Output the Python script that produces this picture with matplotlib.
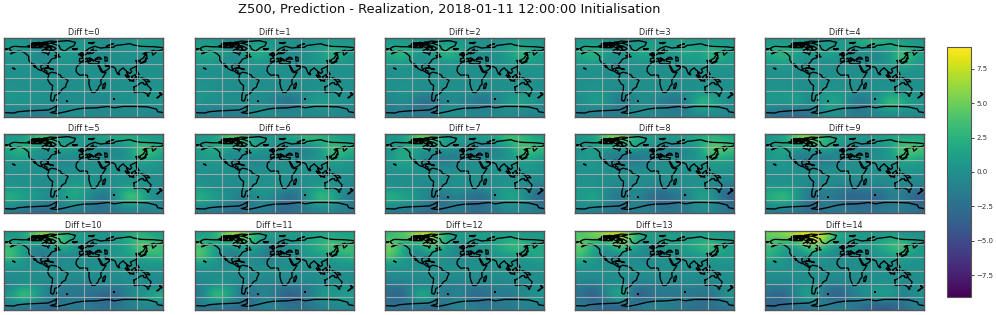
# Z500 difference maps, prediction minus realization
import matplotlib
matplotlib.use('Agg')
import numpy as np
import matplotlib.pyplot as plt

W, H = 996, 315

lons = [-165, -135, -105, -75, -45, -15, 15, 45, 75, 105, 135, 165]
lats = [78.75, 56.25, 33.75, 11.25, -11.25, -33.75, -56.25, -78.75]

# one field per lead time, rows north to south
diff_0 = [[0.5, 0.5, -0.5, -1.0, 0.0, 0.5, 0.5, 0.0, 0.0, 0.5, 1.0, 0.5],
          [0.5, 1.0, -0.5, -0.5, 2.0, 0.5, 0.0, -0.5, 0.0, 0.0, 0.0, 0.5],
          [0.0, 0.5, -0.5, -0.5, 0.0, 0.0, 0.0, 0.0, 0.0, 0.0, 0.0, 0.0],
          [0.0, 0.0, 0.0, 0.0, 0.0, 0.0, 0.0, 0.0, 0.0, 0.0, 0.0, 0.0],
          [0.0, 0.0, 0.0, 0.0, 0.0, 0.0, 0.0, 0.0, 0.0, 0.0, 0.0, 0.0],
          [0.5, 0.0, 0.0, 0.0, -0.5, 0.0, 0.0, 0.0, 0.0, 0.0, 0.5, 0.5],
          [0.5, 0.5, 0.5, 0.0, -0.5, 0.0, -1.0, -1.0, 0.0, 0.0, 0.5, 0.5],
          [-1.0, -1.0, -2.0, -1.0, -0.5, 0.0, -0.5, -0.5, -0.5, -0.5, -0.5, -1.0]]
diff_1 = [[0.5, 0.5, -0.5, -1.0, 0.5, 0.5, 0.5, 0.0, 0.0, 0.5, 0.5, 0.5],
          [2.0, 2.5, 0.0, 0.0, 4.0, 1.5, 0.0, -0.5, 0.0, 1.0, 4.0, 1.0],
          [0.5, 0.5, -0.5, -0.5, 0.0, 0.0, 0.0, -0.5, 0.0, 0.5, 0.5, 0.0],
          [0.0, 0.0, 0.0, 0.0, 0.0, 0.0, 0.0, 0.0, 0.0, 0.0, 0.0, 0.0],
          [0.0, 0.0, 0.0, 0.0, 0.0, 0.0, 0.0, 0.0, 0.0, 0.0, 0.0, 0.0],
          [0.5, 0.0, -0.5, -0.5, 0.0, -0.5, 0.0, -0.5, 0.0, 0.0, 0.5, 0.0],
          [0.5, 0.0, 0.5, 0.0, 0.0, -0.5, -3.0, -3.0, 0.5, 1.5, 0.5, 0.0],
          [-1.5, -1.5, -1.5, -1.5, -0.5, 0.0, -0.5, -0.5, -0.5, -0.5, -0.5, -1.0]]
diff_2 = [[0.5, 0.5, 0.5, -0.5, 0.5, 0.5, 0.5, 0.0, 0.0, 0.5, 0.5, 0.5],
          [2.5, 4.0, 0.5, 0.5, 4.5, 2.5, 0.0, 0.0, 0.0, 1.5, 4.5, 1.0],
          [0.5, 1.0, -0.5, -0.5, 0.0, 0.0, 0.0, -0.5, 0.0, 0.5, 1.0, 0.5],
          [0.0, 0.0, 0.0, 0.0, 0.0, 0.0, 0.0, 0.0, 0.0, 0.0, 0.0, 0.0],
          [0.0, 0.0, 0.0, 0.0, 0.0, 0.0, 0.0, 0.0, 0.0, 0.0, 0.0, 0.0],
          [0.0, 0.5, 0.0, -0.5, 0.0, 0.0, 0.0, -0.5, 0.0, 0.0, 0.5, 0.0],
          [-1.5, 0.5, -3.0, -3.0, -0.5, -1.0, -2.0, -3.0, -1.0, 1.5, 1.5, 0.0],
          [-1.5, -1.5, -2.0, -1.5, 0.0, 0.0, -0.5, -0.5, -0.5, -0.5, -1.0, -1.0]]
diff_3 = [[0.5, 0.5, 0.5, -0.5, 0.0, 0.5, 1.0, 1.0, 1.0, 0.5, 0.5, 0.5],
          [2.0, 4.0, 0.5, 0.0, 2.0, 2.5, 0.5, 0.5, 3.0, 1.0, 4.5, 1.5],
          [0.5, 1.0, -0.5, -0.5, 0.0, 0.0, 0.0, 0.0, 0.0, 0.5, 1.0, 0.5],
          [0.0, 0.0, 0.0, 0.0, 0.0, 0.0, 0.0, 0.0, 0.0, 0.0, 0.0, 0.0],
          [0.0, 0.0, 0.0, 0.0, 0.0, 0.0, 0.0, 0.0, 0.0, 0.0, 0.0, 0.0],
          [0.0, 0.5, 0.0, -1.0, 0.0, 0.0, 0.0, -0.5, 0.0, 0.0, 0.0, 0.0],
          [0.0, 1.5, 0.5, -3.0, -0.5, 0.0, -1.5, -3.0, -1.5, 5.0, 1.5, 0.0],
          [-1.5, -1.5, -1.5, -1.5, -0.5, -0.5, -1.0, -1.5, -1.0, -0.5, -0.5, -1.0]]
diff_4 = [[0.5, 0.5, 1.0, 0.0, 0.0, 0.5, 1.0, 2.5, 3.0, 2.0, 0.5, 0.5],
          [2.5, 4.0, 1.0, 0.5, 2.5, 1.0, 0.0, -1.0, -1.5, 0.5, 5.5, 1.5],
          [0.5, 1.5, 0.0, -0.5, -0.5, -0.5, 0.0, 0.0, 0.0, 0.5, 3.0, 0.5],
          [0.0, 0.0, 0.0, 0.0, 0.0, 0.0, 0.0, 0.0, 0.0, 0.0, 0.0, 0.0],
          [0.0, 0.0, 0.0, 0.0, 0.0, 0.0, 0.0, 0.0, 0.0, 0.0, 0.0, 0.0],
          [0.5, 0.5, 0.0, -0.5, 0.0, 0.5, 0.0, -0.5, 0.0, 0.5, 0.0, 0.0],
          [1.0, 1.0, 2.0, -1.0, 2.0, 2.5, -1.5, -3.0, 0.5, 5.5, 2.5, 0.5],
          [-2.0, -3.0, -3.0, -2.0, -0.5, 0.0, -1.5, -1.5, -0.5, -0.5, -0.5, -0.5]]
diff_5 = [[0.5, 0.5, 4.0, 4.0, 0.0, 0.5, 1.0, 1.5, 2.0, 2.5, 0.5, 0.5],
          [2.0, 4.0, 0.0, 0.0, 2.5, 0.5, -0.5, -1.0, -1.5, 0.5, 5.5, 3.0],
          [0.5, 1.0, -0.5, -0.5, -1.5, -0.5, 0.0, 0.0, 0.0, 0.5, 3.0, 0.5],
          [0.0, 0.0, 0.0, 0.0, 0.0, 0.0, 0.0, 0.0, 0.0, 0.0, 0.0, 0.0],
          [0.0, 0.0, 0.0, 0.0, 0.0, 0.0, 0.0, 0.0, 0.0, 0.0, 0.0, 0.0],
          [0.5, 0.0, 0.0, -0.5, 0.5, 2.0, 0.5, -0.5, 0.0, 1.5, 0.5, -0.5],
          [3.5, 2.0, 1.5, -1.0, 1.0, 3.0, -1.0, -3.0, 0.5, 6.0, 3.0, -1.0],
          [-1.5, -2.5, -3.0, -3.0, -1.5, -1.5, -2.0, -2.5, -1.5, -1.0, -1.5, -1.0]]
diff_6 = [[0.5, 0.5, 5.0, 4.5, 0.5, 0.5, 1.0, 1.5, 3.5, 3.0, 1.0, 0.5],
          [1.0, 3.0, 0.0, 0.0, 2.5, 0.0, -0.5, -1.5, -2.0, 0.5, 5.5, 3.0],
          [0.5, 1.0, -0.5, -1.0, -1.5, -1.0, 0.0, 0.0, 0.0, 0.5, 2.0, 0.5],
          [0.0, 0.0, 0.0, 0.0, 0.0, 0.0, 0.0, 0.0, 0.0, 0.0, 0.0, 0.0],
          [0.0, 0.0, 0.0, 0.0, 0.0, 0.0, 0.0, 0.0, 0.0, 0.0, 0.0, 0.0],
          [0.5, -0.5, -0.5, -0.5, 0.5, 0.5, 0.0, -1.0, 0.0, 1.5, 0.0, -1.0],
          [3.5, 1.5, 0.5, -2.0, -0.5, 0.5, -2.5, -3.5, 0.5, 5.0, 2.5, -2.0],
          [-1.5, -2.0, -2.5, -2.5, -1.5, -1.5, -3.0, -2.5, -1.5, -1.0, -1.0, -1.5]]
diff_7 = [[0.5, 0.5, 5.5, 5.0, 0.5, 1.0, 1.0, 1.0, 2.0, 4.0, 2.5, 1.0],
          [0.0, 2.5, 0.0, 0.0, 1.5, -0.5, -1.5, -2.0, -1.5, 0.5, 5.5, 3.5],
          [0.5, 3.0, 0.0, -1.5, -3.0, -1.5, 0.0, 0.0, 0.0, 0.5, 2.0, 0.5],
          [0.0, 0.5, 0.0, 0.0, 0.0, 0.0, 0.0, 0.0, 0.0, 0.0, 0.5, 0.0],
          [0.0, 0.0, 0.0, 0.0, 0.0, 0.0, 0.0, 0.0, 0.0, 0.0, 0.0, 0.0],
          [0.0, -0.5, -0.5, -1.0, -0.5, 0.5, -0.5, -0.5, 0.0, 1.0, -0.5, -2.0],
          [3.5, 2.5, 1.0, -1.5, -2.5, -1.0, -3.0, -3.5, 0.5, 2.5, 0.5, -3.5],
          [-1.5, -2.0, -2.0, -3.0, -2.0, -1.5, -2.5, -2.5, -1.5, -0.5, -1.0, -1.5]]
diff_8 = [[0.5, 1.0, 6.0, 6.0, 2.0, 1.5, 1.0, 0.5, 1.5, 2.0, 2.5, 1.5],
          [0.0, 1.5, -0.5, 0.0, 1.5, -0.5, -1.5, -1.5, -1.0, 1.0, 7.0, 4.0],
          [0.5, 1.0, -1.5, -2.5, -3.0, -2.0, 0.0, 0.0, 0.0, 0.5, 2.0, 1.0],
          [0.0, 0.5, 0.0, 0.0, 0.0, 0.0, 0.0, 0.0, 0.0, 0.0, 0.5, 0.0],
          [0.0, 0.0, 0.0, 0.0, 0.0, 0.0, 0.0, 0.0, 0.0, 0.0, 0.0, 0.0],
          [0.5, 0.0, -0.5, -1.5, -0.5, -0.5, -1.5, -1.0, 0.0, 0.5, -1.0, -2.5],
          [1.0, 3.0, -1.0, -2.5, 0.5, -3.0, -4.0, -2.5, -1.5, 2.5, 0.5, -4.0],
          [-1.0, -1.5, -1.5, -2.5, -1.5, -1.0, -2.0, -2.0, -1.5, -0.5, -1.0, -2.0]]
diff_9 = [[0.5, 1.0, 6.0, 6.5, 2.5, 1.5, 1.0, 0.5, 1.0, 1.5, 1.5, 1.5],
          [0.5, 2.5, -0.5, 0.0, 2.5, -0.5, -1.5, -1.5, -0.5, 1.0, 6.0, 4.5],
          [0.5, 1.0, -2.0, -2.5, -2.5, -1.5, 0.0, 0.0, 0.0, 0.5, 2.5, 1.5],
          [0.0, 0.5, 0.0, 0.0, 0.0, 0.0, 0.0, 0.0, 0.0, 0.0, 0.5, 0.0],
          [0.0, 0.0, 0.0, 0.0, 0.0, 0.0, 0.0, 0.0, 0.0, 0.0, 0.0, 0.0],
          [0.5, 0.5, 0.0, -1.5, -1.0, -1.0, -2.0, -1.5, -1.5, -0.5, -1.0, -2.0],
          [3.0, 5.5, 1.0, -3.0, -1.0, -2.5, -4.0, -3.0, -4.0, -1.0, -2.0, -4.0],
          [-1.5, -2.0, -2.0, -3.0, -2.0, -1.5, -2.0, -2.5, -2.0, -1.5, -1.5, -2.5]]
diff_10 = [[0.5, 1.0, 6.0, 6.5, 2.5, 1.0, 1.0, 0.5, 0.5, 2.0, 2.5, 1.0],
           [3.0, 1.0, -1.5, 0.5, 4.0, 0.0, -0.5, 0.0, 0.5, 2.0, 6.0, 3.5],
           [4.5, 1.0, -2.0, -2.0, -1.0, -0.5, 0.0, 0.0, 0.5, 1.0, 2.0, 3.0],
           [0.0, 0.0, 0.0, 0.0, 0.0, 0.0, 0.0, 0.0, 0.0, 0.0, 0.0, 0.0],
           [0.0, 0.0, 0.0, 0.0, 0.0, 0.0, 0.0, 0.0, 0.0, 0.0, 0.0, 0.0],
           [-1.5, 0.0, -0.5, -1.5, -1.0, -1.5, -1.5, -1.0, -1.0, -0.5, -0.5, -1.5],
           [1.0, 6.5, 2.0, -1.5, -2.0, -2.0, -2.5, -3.5, -4.0, 0.0, 0.5, 3.5],
           [-1.5, -2.5, -2.5, -3.0, -2.0, -1.5, -1.5, -2.5, -2.0, -1.5, -0.5, -1.5]]
diff_11 = [[1.0, 2.0, 6.5, 7.0, 2.5, 1.0, 1.0, 1.0, 1.0, 1.5, 1.5, 1.0],
           [4.0, 1.0, -0.5, 1.0, 2.5, -1.5, -0.5, 0.0, 1.5, 3.5, 5.0, 3.5],
           [5.0, 1.0, -2.0, -1.0, -0.5, -2.5, -0.5, 0.0, 0.5, 0.5, 1.0, 3.0],
           [0.0, 0.0, 0.0, 0.0, 0.0, 0.0, 0.0, 0.0, 0.0, 0.0, 0.0, 0.0],
           [0.0, 0.0, 0.0, 0.0, 0.0, 0.0, 0.0, 0.0, 0.0, 0.0, 0.0, 0.0],
           [-1.5, 0.0, 0.0, -1.5, -1.0, -1.5, -1.5, -1.5, -1.5, -0.5, 0.0, -0.5],
           [-2.0, 6.0, 3.0, -2.0, -2.5, 0.5, -4.0, -4.0, -2.0, 1.5, 1.0, 1.5],
           [-1.5, -2.5, -2.5, -3.0, -2.0, -1.0, -1.5, -2.5, -2.0, -1.5, -0.5, -1.0]]
diff_12 = [[3.0, 4.5, 7.0, 7.5, 2.0, 1.0, 1.0, 1.0, 1.0, 1.0, 0.5, 0.5],
           [5.5, 1.0, 0.0, 5.5, 2.0, -1.0, 0.5, 0.5, 1.5, 4.5, 3.5, 1.5],
           [5.0, 1.0, -1.5, -0.5, 0.0, -1.0, -0.5, 0.0, 0.5, 0.5, 0.5, 2.0],
           [0.0, 0.0, 0.0, 0.0, 0.0, 0.0, 0.0, 0.0, 0.0, 0.0, 0.0, 0.0],
           [0.0, 0.0, 0.0, 0.0, 0.0, 0.0, 0.0, 0.0, 0.0, 0.0, 0.0, 0.0],
           [-2.0, -1.5, -1.0, -1.5, -1.5, -1.5, -1.5, -1.5, -1.0, -1.0, -0.5, -0.5],
           [-3.0, -4.0, 4.0, 2.0, -3.0, 0.5, -3.5, -3.0, -1.5, -2.0, -0.5, 1.0],
           [-2.0, -2.5, -2.5, -3.0, -2.0, -1.0, -1.0, -2.0, -2.0, -1.5, -1.0, -1.5]]
diff_13 = [[4.0, 5.5, 7.0, 8.0, 3.0, 1.0, 1.0, 1.0, 0.5, 1.0, 0.5, 0.5],
           [5.0, 1.0, 0.0, 6.0, 2.0, -1.0, 1.0, 1.5, 1.5, 3.5, 4.5, 1.0],
           [4.0, 1.0, -1.5, -0.5, -1.0, -1.0, -0.5, 0.0, 0.0, 0.5, 1.0, 1.0],
           [0.0, 0.0, 0.0, 0.0, 0.0, 0.0, 0.0, 0.0, 0.0, 0.0, 0.0, 0.0],
           [0.0, 0.0, 0.0, 0.0, 0.0, 0.0, 0.0, 0.0, 0.0, 0.0, 0.0, 0.0],
           [-1.5, -2.0, -0.5, -0.5, -2.0, -1.5, -1.5, -1.0, -1.0, -1.0, -1.0, -0.5],
           [-2.5, -4.5, 0.5, 4.5, -4.0, -3.5, -1.5, -2.5, -1.5, -2.5, -2.0, 1.0],
           [-1.5, -2.5, -3.5, -3.5, -2.0, -1.0, -1.0, -1.5, -2.0, -2.5, -2.5, -2.0]]
diff_14 = [[5.0, 6.0, 7.5, 9.0, 7.5, 1.5, 1.0, 1.0, 0.5, 1.0, 0.0, 0.0],
           [3.0, 1.0, 1.0, 7.0, 3.5, 0.0, 1.0, 1.0, 1.5, 4.0, 5.0, 1.0],
           [3.0, 0.5, -1.0, 0.0, -0.5, -1.0, -0.5, -0.5, 0.0, 0.5, 1.5, 0.5],
           [0.0, 0.0, 0.0, 0.0, 0.0, 0.0, 0.0, 0.0, 0.0, 0.0, 0.0, 0.0],
           [0.0, 0.0, 0.0, 0.0, 0.0, 0.0, 0.0, 0.0, 0.0, 0.0, 0.0, 0.0],
           [-1.0, -1.5, -0.5, 0.0, -1.5, -1.5, -1.0, -0.5, 0.0, 0.0, -1.0, 0.0],
           [-3.0, -4.0, 0.5, 3.0, -2.5, -4.5, -2.0, 0.5, 1.5, 2.0, -1.5, 0.5],
           [-3.0, -2.5, -2.5, -2.5, -1.5, -1.0, -1.5, -3.0, -4.0, -4.0, -2.5, -1.5]]

fields = [diff_0, diff_1, diff_2, diff_3, diff_4, diff_5, diff_6, diff_7,
          diff_8, diff_9, diff_10, diff_11, diff_12, diff_13, diff_14]

# coastlines, lon/lat
coast_namerica = [(-168, 66), (-162, 70), (-156, 71), (-140, 70), (-128, 70), (-115, 68), (-108, 68), (-95, 68),
                  (-94, 72), (-88, 68), (-82, 69), (-86, 65), (-93, 62), (-94, 58), (-88, 56), (-82, 55), (-80, 51),
                  (-78, 55), (-78, 62), (-70, 61), (-65, 59), (-60, 55), (-56, 52), (-65, 50), (-60, 46), (-66, 44),
                  (-70, 43), (-74, 40), (-76, 36), (-81, 31), (-80, 25), (-83, 29), (-89, 30), (-95, 29), (-97, 25),
                  (-95, 18), (-90, 21), (-87, 21), (-88, 16), (-83, 15), (-83, 10), (-78, 9), (-80, 7), (-85, 10),
                  (-92, 15), (-97, 16), (-105, 20), (-109, 26), (-113, 31), (-110, 23), (-115, 30), (-120, 34),
                  (-124, 40), (-124, 48), (-130, 54), (-138, 59), (-148, 60), (-155, 58), (-165, 54), (-158, 58),
                  (-165, 61), (-168, 66)]
coast_samerica = [(-78, 9), (-72, 12), (-62, 10), (-52, 5), (-50, 0), (-40, -3), (-35, -7), (-39, -15), (-41, -22),
                  (-48, -26), (-53, -34), (-58, -38), (-65, -41), (-66, -48), (-69, -54), (-74, -52), (-74, -42),
                  (-71, -30), (-70, -18), (-76, -14), (-81, -5), (-80, 1), (-78, 9)]
coast_greenland = [(-72, 78), (-60, 82), (-35, 84), (-18, 80), (-22, 72), (-32, 68), (-43, 60), (-52, 65),
                   (-55, 72), (-72, 78)]
coast_africa = [(-6, 35), (10, 37), (11, 33), (20, 31), (32, 31), (35, 24), (39, 15), (43, 11), (51, 12), (45, 2),
                (39, -6), (40, -15), (35, -20), (33, -26), (26, -34), (19, -34), (14, -22), (12, -12), (13, -5),
                (9, 0), (9, 5), (0, 6), (-8, 5), (-14, 10), (-17, 15), (-16, 23), (-10, 30), (-6, 35)]
coast_eurasia = [(-9, 37), (-9, 43), (-1, 44), (-4, 48), (4, 52), (8, 54), (9, 57), (11, 54), (20, 55), (24, 59),
                 (30, 60), (22, 60), (22, 65), (17, 61), (16, 56), (11, 59), (5, 60), (12, 66), (25, 71), (40, 67),
                 (45, 68), (68, 69), (73, 73), (90, 75), (105, 77), (113, 74), (130, 71), (160, 70), (180, 68)]
coast_eurasia2 = [(-180, 66), (-172, 65), (-178, 63)]
coast_eurasia3 = [(180, 65), (177, 62), (163, 60), (164, 57), (157, 51), (155, 58), (160, 62), (150, 59), (140, 57),
                  (135, 54), (141, 53), (135, 44), (128, 40), (129, 36), (126, 35), (125, 39), (121, 39), (118, 38),
                  (122, 37), (120, 34), (122, 30), (119, 25), (110, 21), (106, 19), (109, 13), (105, 9), (100, 13),
                  (100, 7), (104, 1), (100, 4), (98, 9), (97, 16), (94, 17), (90, 22), (82, 16), (80, 12), (77, 8),
                  (73, 17), (72, 21), (67, 24), (61, 25), (57, 26), (50, 30), (48, 30), (51, 25), (56, 26), (59, 22),
                  (52, 16), (44, 13), (39, 21), (35, 28), (34, 31), (36, 36), (27, 37), (26, 40), (23, 40), (22, 37),
                  (19, 42), (13, 45), (18, 40), (16, 38), (12, 43), (7, 44), (3, 42), (0, 39), (-5, 36), (-9, 37)]
coast_blacksea = [(28, 42), (32, 46), (37, 46), (41, 42), (34, 42), (28, 42)]
coast_caspian = [(48, 46), (53, 46), (54, 38), (49, 37), (48, 46)]
coast_australia = [(114, -22), (122, -18), (130, -12), (136, -12), (136, -15), (141, -17), (142, -11), (146, -19),
                   (153, -26), (150, -37), (144, -38), (138, -34), (130, -32), (123, -34), (115, -34), (114, -22)]
coast_antarctica = [(-180, -80), (-158, -81), (-148, -78), (-125, -76), (-100, -75), (-80, -74), (-70, -70),
                    (-58, -63), (-62, -70), (-62, -76), (-75, -80), (-60, -82), (-40, -78), (-28, -75), (-15, -72),
                    (0, -70), (30, -69), (55, -66), (70, -69), (90, -66), (120, -66), (145, -67), (165, -72),
                    (168, -78), (180, -80)]
islands = [[(-125, 72), (-115, 74), (-105, 73), (-110, 70), (-118, 70), (-125, 72)],
           [(-90, 80), (-75, 83), (-62, 82), (-75, 78), (-90, 80)],
           [(-95, 76), (-80, 76), (-82, 74), (-95, 74), (-95, 76)],
           [(-120, 76), (-105, 76), (-100, 75), (-115, 75), (-120, 76)],
           [(-80, 73), (-70, 71), (-62, 66), (-68, 62), (-75, 65), (-72, 68), (-85, 70), (-80, 73)],
           [(-100, 73), (-92, 73), (-95, 70), (-102, 70), (-100, 73)],
           [(-116, 78), (-100, 80), (-90, 78), (-105, 77), (-116, 78)],
           [(-85, 65), (-80, 65), (-84, 62), (-85, 65)],
           [(-90, 78), (-82, 79), (-85, 76), (-90, 78)],
           [(-78, 70), (-72, 70), (-74, 67), (-78, 70)],
           [(-110, 75), (-104, 75), (-106, 72), (-110, 75)],
           [(-98, 78), (-92, 77), (-96, 75), (-98, 78)],
           [(-59, 51), (-53, 47), (-59, 47), (-59, 51)],
           [(-24, 65), (-14, 66), (-15, 64), (-22, 63), (-24, 65)],
           [(-6, 50), (1, 51), (-3, 58), (-6, 56), (-4, 53), (-6, 50)],
           [(-10, 52), (-6, 52), (-6, 55), (-10, 54), (-10, 52)],
           [(12, 79), (25, 80), (20, 77), (12, 79)],
           [(52, 71), (68, 77), (60, 75), (52, 71)],
           [(-85, 22), (-75, 20), (-78, 22), (-85, 22)],
           [(-74, 19), (-68, 18), (-70, 20), (-74, 19)],
           [(-160, 21), (-155, 19), (-157, 21), (-160, 21)],
           [(142, 54), (143, 47), (143, 52), (142, 54)],
           [(130, 32), (136, 34), (141, 36), (141, 41), (145, 44), (141, 45), (139, 38), (133, 35), (130, 32)],
           [(120, 22), (122, 25), (120, 25), (120, 22)],
           [(120, 18), (122, 14), (126, 7), (122, 7), (120, 14), (120, 18)],
           [(95, 5), (105, -5), (102, -4), (95, 5)],
           [(105, -7), (114, -8), (108, -6), (105, -7)],
           [(109, 1), (117, 7), (118, 1), (114, -4), (110, -2), (109, 1)],
           [(120, 1), (125, 1), (122, -5), (120, -3), (120, 1)],
           [(131, -1), (141, -3), (147, -6), (150, -10), (141, -9), (136, -4), (131, -1)],
           [(145, -41), (148, -41), (147, -43), (145, -41)],
           [(173, -35), (178, -38), (175, -41), (173, -35)],
           [(167, -46), (173, -41), (171, -44), (167, -46)],
           [(44, -25), (47, -25), (50, -15), (49, -12), (44, -17), (44, -25)],
           [(80, 9), (82, 7), (80, 6), (80, 9)],
           [(9, 41), (9, 39), (8, 40), (9, 41)],
           [(13, 38), (15, 37), (12, 37), (13, 38)],
           [(-60, -52), (-58, -51), (-61, -51), (-60, -52)],
           [(-38, -54), (-36, -54), (-37, -55), (-38, -54)],
           [(69, -49), (70, -49), (69, -50), (69, -49)]]
coasts = [coast_namerica, coast_samerica, coast_greenland, coast_africa, coast_eurasia, coast_eurasia2,
          coast_eurasia3, coast_blacksea, coast_caspian, coast_australia, coast_antarctica] + islands

col_left = [4, 195, 385, 575, 765]
row_top = [38, 134, 231]
panel_w, panel_h = 159, 79
vmin, vmax = -9.07, 9.07

fig = plt.figure(figsize=(W / 100, H / 100), dpi=100)


def px_axes(left, top, width, height):
    return fig.add_axes([left / W, 1 - (top + height) / H, width / W, height / H])


for t, field in enumerate(fields):
    ax = px_axes(col_left[t % 5], row_top[t // 5], panel_w, panel_h)
    im = ax.imshow(np.array(field), extent=[-180, 180, -90, 90], aspect='auto', cmap='viridis',
                   vmin=vmin, vmax=vmax, interpolation='bicubic')
    for c in coasts:
        xs, ys = zip(*c)
        ax.plot(xs, ys, color='black', lw=0.95, solid_joinstyle='round')
    for x in [-120, -60, 0, 60, 120]:
        ax.axvline(x, color='#b4b4b4', lw=0.8, alpha=0.8)
    for y in [-60, -30, 0, 30, 60]:
        ax.axhline(y, color='#b4b4b4', lw=0.8, alpha=0.8)
    ax.set_xlim(-180, 180)
    ax.set_ylim(-90, 90)
    ax.set_xticks([])
    ax.set_yticks([])
    for s in ax.spines.values():
        s.set_color('#555555')
        s.set_linewidth(1.0)
    ax.set_title(f'Diff t={t}', fontsize=5.8, pad=2.5, color='#222222')

cax = px_axes(947, 47, 24, 250)
cb = fig.colorbar(im, cax=cax, ticks=[-7.5, -5, -2.5, 0, 2.5, 5, 7.5])
cb.ax.tick_params(labelsize=5, length=2, width=0.5, pad=2, labelcolor='#333333')
cb.outline.set_linewidth(0.8)
cb.outline.set_edgecolor('#555555')

fig.text(449.5 / W, 1 - 9 / H, 'Z500, Prediction - Realization, 2018-01-11 12:00:00 Initialisation',
         ha='center', va='center', fontsize=9.4, color='#111111')

fig.savefig('out.png', dpi=100)
